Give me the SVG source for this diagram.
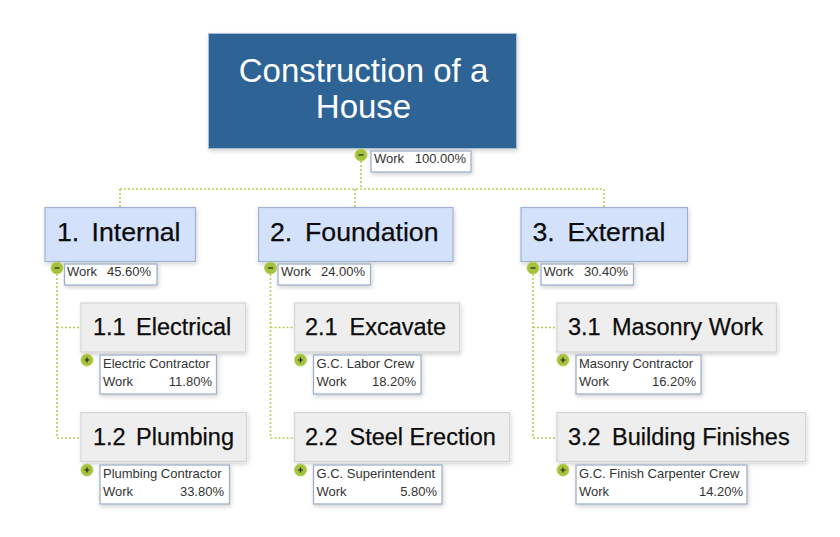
<svg xmlns="http://www.w3.org/2000/svg" width="840" height="537" viewBox="0 0 840 537">
<defs>
<filter id="sh" x="-10%" y="-15%" width="120%" height="135%"><feDropShadow dx="1" dy="2" stdDeviation="2" flood-color="#000" flood-opacity="0.18"/></filter>
</defs>
<style>
text{font-family:"Liberation Sans",Arial,sans-serif}
.root{fill:#2f6496;stroke:#a9bdd3;stroke-width:1;filter:url(#sh)}
.l1{fill:#d3e2fa;stroke:#9db3d0;stroke-width:1.2;filter:url(#sh)}
.l2{fill:#eeeeee;stroke:#d4d4d4;stroke-width:1.2;filter:url(#sh)}
.info{fill:#fff;stroke:#9fb1ca;stroke-width:1.3;filter:url(#sh)}
.t0{font-size:33px;fill:#fff;text-anchor:middle}
.t1{font-size:26.7px;fill:#0c0c0c;stroke:#0c0c0c;stroke-width:.25}
.t2{font-size:23.5px;fill:#0c0c0c;stroke:#0c0c0c;stroke-width:.25}
.s{font-size:13px;fill:#333}
.e{text-anchor:end}
.c{fill:#a4c23c;stroke:#b6d05c;stroke-width:1}
.g{stroke:#222;stroke-width:1.2;fill:none}
.con{fill:none;stroke:#b3cf57;stroke-width:1.6;stroke-dasharray:2 2}
</style>
<g id="connectors" class="con">
<path d="M361 161V189"/><path d="M120 189H604"/><path d="M120 189V207"/><path d="M355 189V207"/><path d="M604 189V207"/>
<path d="M57 274V438H81"/><path d="M57 327.500H81"/>
<path d="M270.500 274V438H294"/><path d="M270.500 327.500H294"/>
<path d="M533 274V438H557"/><path d="M533 327.500H557"/>
</g>
<g id="n0"><rect class="root" x="208.500" y="33.500" width="308" height="115"/><text class="t0" x="363.500" y="81.500">Construction of a</text><text class="t0" x="363.500" y="117.500">House</text>
<rect class="info" x="371" y="151" width="100" height="21"/><text class="s" x="374" y="163">Work</text><text class="s e" x="466" y="163">100.00%</text>
<circle class="c" cx="361" cy="155" r="6"/><path class="g" d="M358.500 155H363.500"/></g>
<g id="n1"><rect class="l1" x="45" y="207.500" width="150.500" height="54"/><text class="t1" y="241"><tspan x="57">1.</tspan><tspan x="91.500">Internal</tspan></text>
<rect class="info" x="64.500" y="264" width="92.500" height="21"/><text class="s" x="67" y="276">Work</text><text class="s e" x="151" y="276">45.60%</text>
<circle class="c" cx="57" cy="268" r="6"/><path class="g" d="M54.500 268H59.500"/></g>
<g id="n2"><rect class="l1" x="258.500" y="207.500" width="194.500" height="54"/><text class="t1" y="241"><tspan x="270">2.</tspan><tspan x="305">Foundation</tspan></text>
<rect class="info" x="278" y="264" width="92.500" height="21"/><text class="s" x="281" y="276">Work</text><text class="s e" x="365" y="276">24.00%</text>
<circle class="c" cx="270.500" cy="268" r="6"/><path class="g" d="M268 268H273"/></g>
<g id="n3"><rect class="l1" x="521" y="207.500" width="166.500" height="54"/><text class="t1" y="241"><tspan x="532.500">3.</tspan><tspan x="567.500">External</tspan></text>
<rect class="info" x="541" y="264" width="92.500" height="21"/><text class="s" x="543.500" y="276">Work</text><text class="s e" x="628" y="276">30.40%</text>
<circle class="c" cx="533" cy="268" r="6"/><path class="g" d="M530.500 268H535.500"/></g>
<g id="n11"><rect class="l2" x="81" y="303" width="164.500" height="49"/><text class="t2" y="335"><tspan x="93">1.1</tspan><tspan x="136">Electrical</tspan></text>
<rect class="info" x="100" y="355" width="116.500" height="39"/><text class="s" x="103" y="368">Electric Contractor</text><text class="s" x="103" y="386">Work</text><text class="s e" x="212" y="386">11.80%</text>
<circle class="c" cx="87" cy="360" r="6"/><path class="g" d="M84.500 360H89.500M87 357.500V362.500"/></g>
<g id="n12"><rect class="l2" x="81" y="412.500" width="165.500" height="49"/><text class="t2" y="444.500"><tspan x="93">1.2</tspan><tspan x="136">Plumbing</tspan></text>
<rect class="info" x="100" y="465" width="129.500" height="39"/><text class="s" x="103" y="478">Plumbing Contractor</text><text class="s" x="103" y="496">Work</text><text class="s e" x="224" y="496">33.80%</text>
<circle class="c" cx="87" cy="470" r="6"/><path class="g" d="M84.500 470H89.500M87 467.500V472.500"/></g>
<g id="n21"><rect class="l2" x="294.500" y="303" width="165" height="49"/><text class="t2" y="335"><tspan x="305">2.1</tspan><tspan x="349.500">Excavate</tspan></text>
<rect class="info" x="313.500" y="355" width="107.500" height="39"/><text class="s" x="316.500" y="368">G.C. Labor Crew</text><text class="s" x="316.500" y="386">Work</text><text class="s e" x="416" y="386">18.20%</text>
<circle class="c" cx="300.500" cy="360" r="6"/><path class="g" d="M298 360H303M300.500 357.500V362.500"/></g>
<g id="n22"><rect class="l2" x="294.500" y="412.500" width="215" height="49"/><text class="t2" y="444.500"><tspan x="305">2.2</tspan><tspan x="349.500">Steel Erection</tspan></text>
<rect class="info" x="313.500" y="465" width="128.500" height="39"/><text class="s" x="316.500" y="478">G.C. Superintendent</text><text class="s" x="316.500" y="496">Work</text><text class="s e" x="437" y="496">5.80%</text>
<circle class="c" cx="300.500" cy="470" r="6"/><path class="g" d="M298 470H303M300.500 467.500V472.500"/></g>
<g id="n31"><rect class="l2" x="557" y="303" width="219.500" height="49"/><text class="t2" y="335"><tspan x="568">3.1</tspan><tspan x="612">Masonry Work</tspan></text>
<rect class="info" x="576" y="355" width="125" height="39"/><text class="s" x="579" y="368">Masonry Contractor</text><text class="s" x="579" y="386">Work</text><text class="s e" x="696" y="386">16.20%</text>
<circle class="c" cx="563" cy="360" r="6"/><path class="g" d="M560.500 360H565.500M563 357.500V362.500"/></g>
<g id="n32"><rect class="l2" x="557" y="412.500" width="248.500" height="49"/><text class="t2" y="444.500"><tspan x="568">3.2</tspan><tspan x="612">Building Finishes</tspan></text>
<rect class="info" x="576" y="465" width="171" height="39"/><text class="s" x="579" y="478">G.C. Finish Carpenter Crew</text><text class="s" x="579" y="496">Work</text><text class="s e" x="743" y="496">14.20%</text>
<circle class="c" cx="563" cy="470" r="6"/><path class="g" d="M560.500 470H565.500M563 467.500V472.500"/></g>
</svg>
